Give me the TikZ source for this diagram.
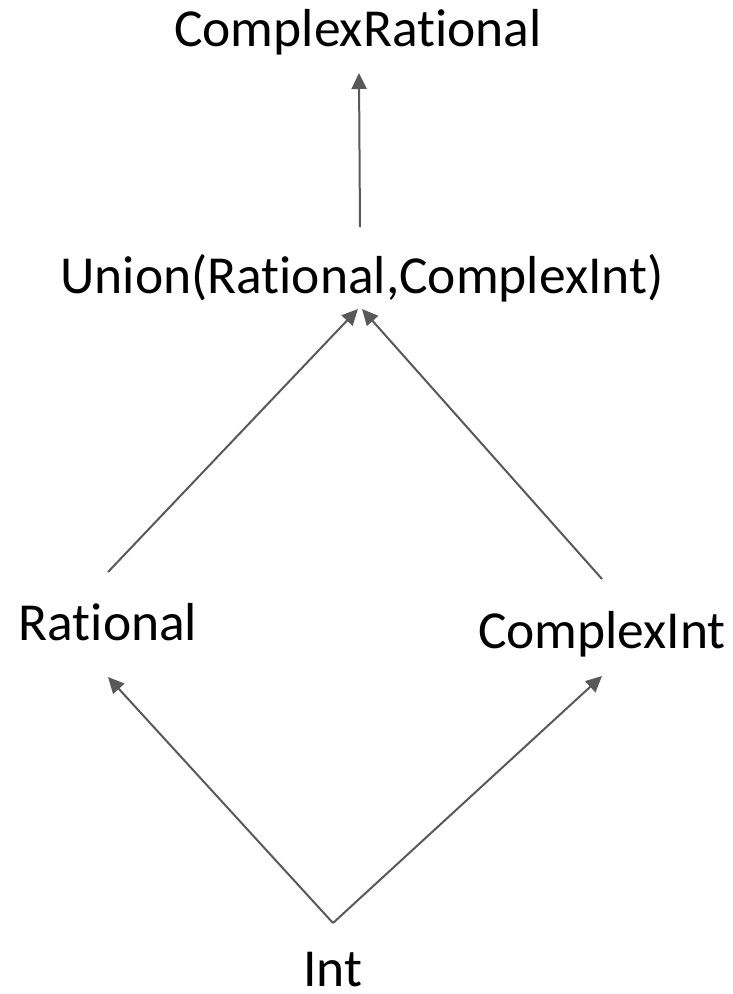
\documentclass[tikz,border=0pt]{standalone}
\usepackage{fontspec}
\setmainfont{Carlito}[Ligatures=NoCommon]
\usetikzlibrary{arrows.meta}
\definecolor{edgegray}{HTML}{595959}
\tikzset{
  typename/.style={font=\fontsize{53.5}{62}\selectfont, anchor=base, inner sep=0pt},
  subtype/.style={draw=edgegray, line width=2pt, -{Triangle[length=16pt,width=15pt]}}
}
\begin{document}
\begin{tikzpicture}[x=1pt,y=-1pt]
  \useasboundingbox (0,0) rectangle (733,994);
  % type names
  \node[typename] (crat)  at (358,46)  {ComplexRational};
  \node[typename] (union) at (362,293) {Union(Rational,ComplexInt)};
  \node[typename] (rat)   at (108,640) {Rational};
  \node[typename] (cint)  at (602,648) {ComplexInt};
  \node[typename] (int)   at (333,986) {Int};
  % connector ends
  \coordinate (cratIn)   at (359,73);
  \coordinate (unionOut) at (360,227);
  \coordinate (unionInL) at (358,309);
  \coordinate (unionInR) at (362,309);
  \coordinate (ratOut)   at (108,572);
  \coordinate (cintOut)  at (602,579);
  \coordinate (ratIn)    at (108,677);
  \coordinate (cintIn)   at (602,676);
  \coordinate (intOut)   at (333,923);
  % subtype relations
  \draw[subtype] (unionOut) -- (cratIn);
  \draw[subtype] (ratOut) -- (unionInL);
  \draw[subtype] (cintOut) -- (unionInR);
  \draw[subtype] (intOut) -- (ratIn);
  \draw[subtype] (intOut) -- (cintIn);
\end{tikzpicture}
\end{document}
